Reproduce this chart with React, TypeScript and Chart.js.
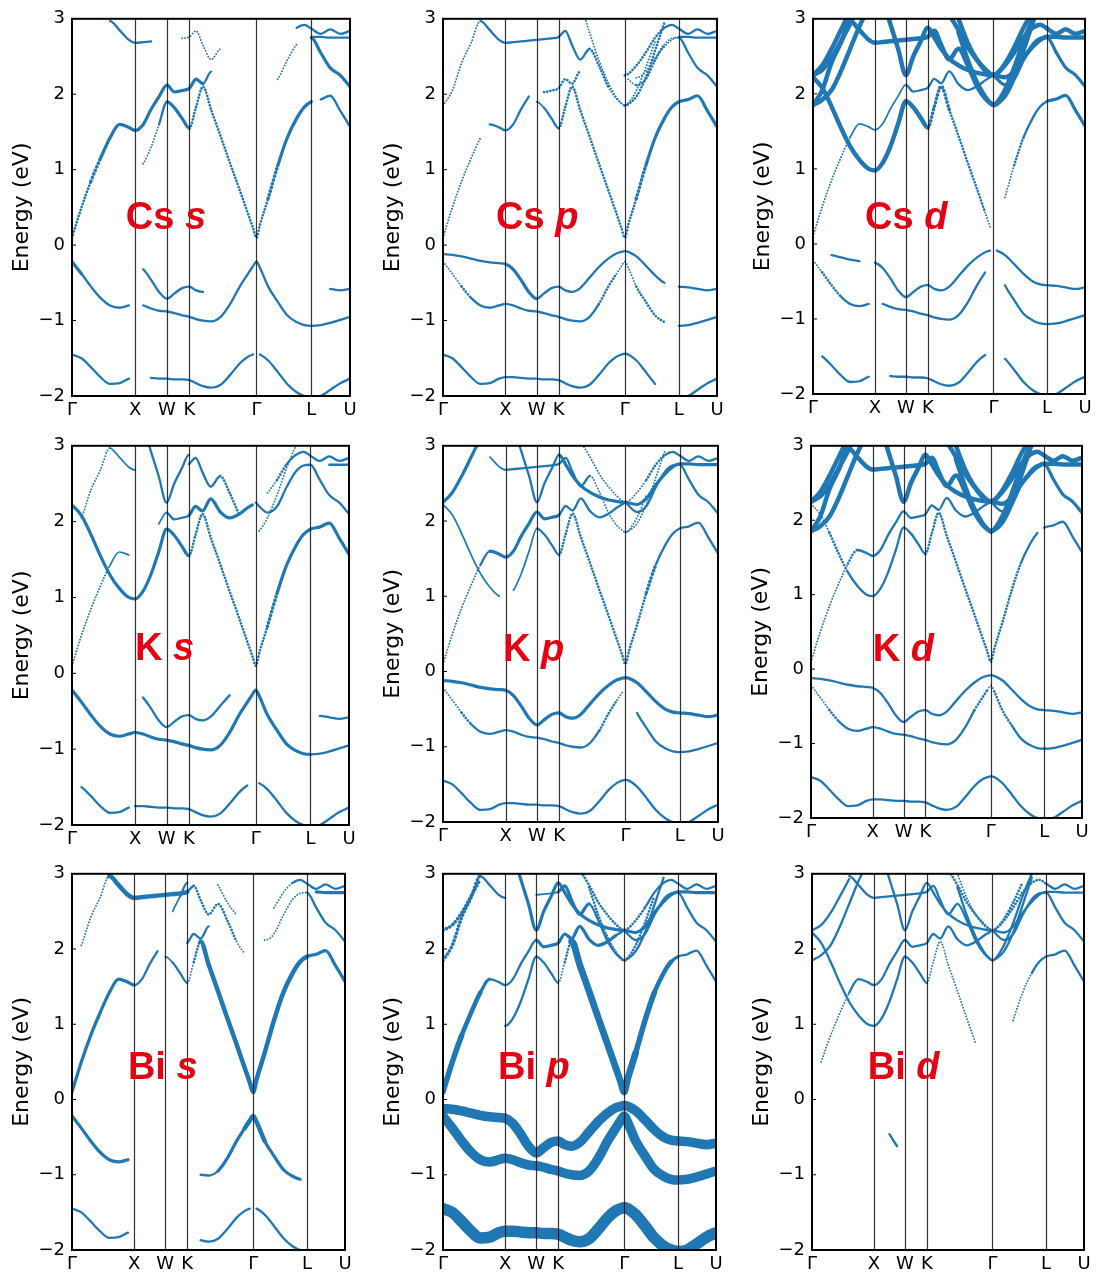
import React, { useEffect, useRef } from 'react';
import { Chart, registerables } from 'chart.js';

Chart.register(...registerables);

// ---------- data ----------
const K_PATH = [0, 0.15, 0.3, 0.45, 0.6, 0.75, 0.9, 1.0, 1.125, 1.25, 1.375, 1.5, 1.62, 1.74, 1.854, 1.96, 2.07, 2.2, 2.35, 2.5, 2.65, 2.78, 2.86, 2.915, 2.97, 3.1, 3.25, 3.4, 3.55, 3.67, 3.781, 3.93, 4.08, 4.24, 4.393];
const HS_POS = [0, 1.0, 1.5, 1.854, 2.915, 3.781, 4.393];
const HS_LABELS = ['Γ', 'X', 'W', 'K', 'Γ', 'L', 'U'];
const Y_TICKS = [-2, -1, 0, 1, 2, 3];

const V3 = [-1.45, -1.5, -1.62, -1.75, -1.84, -1.83, -1.77, -1.75, -1.75, -1.76, -1.77, -1.77, -1.78, -1.78, -1.79, -1.83, -1.87, -1.89, -1.85, -1.72, -1.57, -1.48, -1.45, -1.44, -1.45, -1.53, -1.68, -1.84, -1.95, -2.0, -2.02, -2.0, -1.92, -1.83, -1.77];
const V2 = [-0.22, -0.38, -0.55, -0.7, -0.8, -0.83, -0.8, -0.78, -0.8, -0.84, -0.87, -0.88, -0.9, -0.93, -0.95, -0.98, -1.0, -1.01, -0.95, -0.78, -0.55, -0.38, -0.28, -0.22, -0.3, -0.55, -0.75, -0.93, -1.02, -1.06, -1.07, -1.06, -1.03, -0.99, -0.95];
const V1 = [-0.12, -0.13, -0.15, -0.18, -0.21, -0.23, -0.24, -0.25, -0.32, -0.46, -0.62, -0.71, -0.64, -0.57, -0.55, -0.6, -0.62, -0.57, -0.43, -0.29, -0.18, -0.11, -0.09, -0.08, -0.09, -0.15, -0.27, -0.4, -0.5, -0.54, -0.55, -0.56, -0.58, -0.6, -0.58];
const C1 = [0.1, 0.5, 0.85, 1.15, 1.42, 1.6, 1.56, 1.52, 1.6, 1.8, 1.97, 2.12, 2.03, 2.05, 2.08, 2.2, 2.14, 2.3, 2.13, 2.05, 2.1, 2.18, 2.22, 2.25, 2.2, 2.12, 2.2, 2.45, 2.66, 2.74, 2.75, 2.55, 2.35, 2.25, 2.1];
const C2 = [2.22, 2.08, 1.83, 1.55, 1.3, 1.12, 1.0, 0.98, 1.08, 1.3, 1.6, 1.9, 1.82, 1.68, 1.55, 1.83, 2.1, 1.79, 1.44, 1.08, 0.73, 0.42, 0.23, 0.1, 0.27, 0.62, 1.05, 1.42, 1.68, 1.83, 1.9, 1.93, 1.98, 1.78, 1.57];
const C3 = [1.85, 1.92, 2.05, 2.3, 2.6, 2.9, 3.15, 3.3, 3.4, 3.5, 3.5, 3.5, 3.5, 3.5, 3.5, 3.5, 3.45, 3.2, 2.82, 2.45, 2.15, 1.96, 1.88, 1.85, 1.88, 2.05, 2.35, 2.7, 3.0, 3.2, 3.3, 3.3, 3.3, 3.3, 3.3];
const C4 = [2.25, 2.32, 2.48, 2.7, 2.93, 3.2, 3.4, 3.5, 3.5, 3.5, 3.5, 3.5, 3.5, 3.5, 3.5, 3.5, 3.5, 3.35, 3.0, 2.68, 2.45, 2.31, 2.26, 2.25, 2.27, 2.4, 2.62, 2.88, 3.1, 3.3, 3.4, 3.4, 3.4, 3.4, 3.4];
const C5 = [1.85, 2.05, 2.42, 2.68, 2.97, 2.85, 2.72, 2.68, 2.69, 2.7, 2.71, 2.72, 2.73, 2.74, 2.76, 2.84, 2.65, 2.46, 2.6, 2.38, 2.1, 1.94, 1.88, 1.85, 1.87, 1.97, 2.22, 2.58, 2.95, 3.25, 3.4, 3.4, 3.4, 3.4, 3.4];
const C6 = [2.25, 2.38, 2.6, 2.85, 3.1, 3.3, 3.45, 3.5, 3.27, 2.93, 2.6, 2.25, 2.5, 2.7, 2.88, 2.75, 2.6, 2.47, 2.38, 2.32, 2.28, 2.26, 2.25, 2.25, 2.24, 2.22, 2.3, 2.48, 2.63, 2.72, 2.76, 2.76, 2.75, 2.75, 2.75];
const C7 = [3.5, 3.5, 3.5, 3.5, 3.5, 3.5, 3.5, 3.5, 3.5, 3.5, 3.5, 3.5, 3.5, 3.5, 3.5, 3.3, 3.2, 3.05, 2.85, 2.62, 2.45, 2.33, 2.27, 2.25, 2.27, 2.38, 2.55, 2.75, 2.88, 2.92, 2.87, 2.8, 2.86, 2.8, 2.84];

const BANDS = [V3, V2, V1, C1, C2, C3, C4, C5, C6, C7];

const ELEMENTS = ['Cs', 'Cs', 'Cs', 'K', 'K', 'K', 'Bi', 'Bi', 'Bi'];
const ORBITALS = ['s', 'p', 'd', 's', 'p', 'd', 's', 'p', 'd'];

// projected weights per band, one code per k-segment (ΓX XW WK KΓ ΓL LU)
const W_CS_S = [
  '3333330 0033 333 333333330 0333333 3333',
  '4333330 0333 333 333333333 3333333 3333',
  '0000000 0333 333 330000000 0000000 0033',
  'bbc4444 4444 444 443000000 000aa00 4444',
  '0000000 0aa3 444 bbbbbbbbb bbc4444 0333',
  '0000000 0000 000 000000000 0000000 0000',
  '0000000 0000 000 000000000 0000000 0000',
  '0000333 3300 00a aaaa00000 0000000 0000',
  '0000000 0000 000 000000000 0000000 3333',
  '0000000 0000 000 000000000 0000033 3333',
];
const W_CS_P = [
  '3333333 3333 333 333333333 3333000 0333',
  'aab3333 3333 333 33333bbaa aabbb00 3333',
  '3333333 4444 333 333333333 3333300 3333',
  'aaaa033 3330 0bb bbb000000 0abbbaa 3333',
  '0000000 0000 233 bbbbbbbbb bbc4444 4444',
  '0000000 0000 000 000aaaaaa aaaa000 0000',
  '0000000 0000 000 000000000 0000000 0000',
  'aaaa333 3333 333 3333bbaaa bbbbb00 0000',
  '0000000 0000 000 000000000 00aaaaa 3333',
  '0000000 0000 000 000000000 bbbbb33 3333',
];
const W_CS_D = [
  '0333330 0033 333 333333300 0033333 3333',
  'abb3330 0333 333 333333300 0033333 3333',
  '0033300 3333 333 333333330 0333333 3333',
  'aaaa222 2222 333 333333333 4444444 4444',
  '5555555 5555 555 cccbbbba0 00ab333 4444',
  '5555555 5555 555 000055555 5555555 5555',
  '5555555 5555 555 000055555 5555555 5555',
  '5555555 5555 555 555555555 5555555 5555',
  '5555555 5555 555 555555555 5555555 5555',
  '5555555 5555 555 555555555 5555555 5555',
];
const W_K_S = [
  '0333330 3333 333 333333300 0333333 3333',
  '4444444 4444 444 444444444 4444444 3333',
  '0000000 0333 333 333330000 0000000 0333',
  'aaaa220 0002 333 444444440 3333333 3333',
  '4444444 4444 444 bbbbbbbbb bbc4444 4444',
  '0000000 0000 000 000000000 0aaaa00 0000',
  '0000000 0000 000 000000000 0000000 0000',
  '0aaa222 0000 000 3333bb000 0000000 0000',
  '0000000 0333 333 000000000 0000000 0033',
  '0000000 0000 000 000000000 00ab333 3333',
];
const W_K_P = [
  '3333333 3333 333 333333333 3333333 3333',
  'aab3333 3333 333 33333bba0 0033333 3333',
  '4444444 4444 444 444444444 4444444 4444',
  'aaaa344 4444 444 333333333 3333333 3333',
  '2222220 0222 333 bbbbbbbbb bbbc333 3333',
  '0000000 0000 000 000000000 aaa0000 0000',
  '0000000 0000 000 000000000 0000000 0000',
  '0000022 3333 333 3333aaaaa aaaaa00 0000',
  '4444000 0333 333 444444444 4444444 4444',
  '0000000 0000 000 000aaaaaa aaabb33 3333',
];
const W_K_D = [
  '3333333 3333 333 333333333 3333333 3333',
  'aab3333 3333 333 333333bba abb3333 3333',
  '3333333 3333 333 333333333 3333333 3333',
  'aaaab33 3333 333 333333333 3333333 4444',
  'aabb333 3333 333 bbbbbbbbb bbbb330 3333',
  '5555555 5555 555 000055555 5555555 5555',
  '5555555 5555 555 000055555 5555555 5555',
  '5555555 5555 555 555555555 5555555 5555',
  '5555555 5555 555 555555555 5555555 5555',
  '5555555 5555 555 555555555 5555555 5555',
];
const W_BI_S = [
  '3333330 0000 000 003333330 0333333 0000',
  '4444440 0000 000 003344455 5544440 0000',
  '0000000 0000 000 000000000 0000000 0000',
  '4444444 3330 000 333000000 00aaaaa 3333',
  '0000000 0000 233 ab5555555 5555555 4444',
  '0000000 0000 000 000000000 0000000 0000',
  '0000000 0000 000 000000000 0000000 0000',
  '0aaa555 5555 555 3bbbbba00 0000000 0000',
  '0000000 0000 023 000000000 0000000 0444',
  '0000000 0000 000 0000aa000 000aa33 3333',
];
const W_BI_P = [
  '9999999 9999 999 999999999 9999999 9999',
  '8888888 8888 888 888888888 8888888 8888',
  '8888888 8888 888 888888888 8888888 8888',
  '6655433 3333 444 444444433 3333333 3333',
  '0000000 3333 333 ab7777777 7766554 3333',
  '0000000 0000 000 0000bbbbb bbbb000 0000',
  'cccc000 0000 000 000000000 0000000 0000',
  'cccc333 0000 222 444433333 3333300 0000',
  '0000000 0444 444 444444444 4444444 4444',
  '0000000 0000 000 000bbbbbb bbb3333 3333',
];
const W_BI_D = [
  '0000000 0000 000 000000000 0000000 0000',
  '0000000 0000 000 000000000 0000000 0000',
  '0000000 0030 000 000000000 0000000 0000',
  '0aaa333 3333 333 333333333 3333333 3333',
  '3333333 3333 333 aaaaaa000 000aa33 3333',
  '3333333 0000 000 000033333 3333300 0000',
  '3333000 0000 000 000aaaaaa bbbb000 0000',
  '0000333 3333 333 333333333 3333300 0000',
  '0000000 0333 333 333333333 3333333 3333',
  '0000000 0000 000 00bbbbbbb bbbbbbb 3333',
];
const PANEL_WEIGHTS = [W_CS_S, W_CS_P, W_CS_D, W_K_S, W_K_P, W_K_D, W_BI_S, W_BI_P, W_BI_D];

// ---------- layout & style ----------
const PANEL_BOXES = [
  [72, 13, 278, 383], [443, 13, 274, 383], [813, 13, 272, 381],
  [72, 440, 277, 385], [443, 440, 275, 382], [811, 440, 271, 378],
  [72, 868, 273, 382], [443, 868, 273, 382], [812, 868, 272, 382],
];
const LABEL_K = [0.85, 0.85, 0.84, 1.0, 0.96, 1.0, 0.9, 0.885, 0.9];
const LABEL_E = [0.22, 0.22, 0.2, 0.17, 0.14, 0.11, 0.275, 0.275, 0.275];

const PAD_L = 72, PAD_T = 12, PAD_R = 14, PAD_B = 30;
const BLUE = '#1f77b4';
const RED = '#e60012';
const TICK_FONT = { family: '"DejaVu Sans", sans-serif', size: 18 };

const STYLE: Record<string, [number, number[]]> = {
  '0': [1, []],
  '1': [1.2, []],
  '2': [1.7, []],
  '3': [2.3, []],
  '4': [3.2, []],
  '5': [4.5, []],
  '6': [5.5, []],
  '7': [6.8, []],
  '8': [9.5, []],
  '9': [11.5, []],
  a: [1.9, [0.01, 3.0]],
  b: [2.7, [0.01, 3.2]],
  c: [3.6, [0.01, 3.8]],
};

const fmtY = (v: number) => (v < 0 ? '\u2212' + Math.abs(v) : String(v));

function decorPlugin(idx: number) {
  return {
    id: 'decor' + idx,
    afterDatasetsDraw(chart: any) {
      const { ctx, chartArea: a, scales } = chart;
      const x = scales.x, y = scales.y;
      ctx.save();
      ctx.strokeStyle = 'rgba(0,0,0,0.8)';
      ctx.lineWidth = 1.2;
      HS_POS.slice(1, -1).forEach((k) => {
        const px = Math.round(x.getPixelForValue(k)) + 0.5;
        ctx.beginPath();
        ctx.moveTo(px, a.top);
        ctx.lineTo(px, a.bottom);
        ctx.stroke();
      });
      ctx.strokeStyle = '#000';
      ctx.lineWidth = 1;
      Y_TICKS.forEach((v) => {
        const py = y.getPixelForValue(v);
        ctx.beginPath();
        ctx.moveTo(a.left, py);
        ctx.lineTo(a.left + 4, py);
        ctx.stroke();
      });
      ctx.lineWidth = 2;
      ctx.strokeRect(a.left, a.top, a.right - a.left, a.bottom - a.top);

      const lx = x.getPixelForValue(LABEL_K[idx]);
      const ly = y.getPixelForValue(LABEL_E[idx]);
      ctx.fillStyle = RED;
      ctx.textAlign = 'left';
      ctx.textBaseline = 'alphabetic';
      ctx.font = 'bold 38px "Liberation Sans", Arial, sans-serif';
      const el = ELEMENTS[idx] + ' ';
      ctx.fillText(el, lx, ly);
      const w = ctx.measureText(el).width;
      ctx.font = 'italic bold 38px "Liberation Sans", Arial, sans-serif';
      ctx.fillText(ORBITALS[idx], lx + w, ly);
      ctx.restore();
    },
  };
}

function Panel({ idx }: { idx: number }) {
  const ref = useRef<HTMLCanvasElement | null>(null);
  const [L, T, W, H] = PANEL_BOXES[idx];
  const cw = PAD_L + W + PAD_R;
  const ch = PAD_T + H + PAD_B;

  useEffect(() => {
    if (!ref.current) return;
    const weights = PANEL_WEIGHTS[idx];
    const datasets = BANDS.map((band, b) => {
      const w = weights[b].replace(/\s/g, '');
      const st = (i: number) => STYLE[w[i]] || STYLE['0'];
      return {
        data: band.map((e, i) => ({ x: K_PATH[i], y: e })),
        borderColor: BLUE,
        borderWidth: 2,
        pointRadius: 0,
        pointHoverRadius: 0,
        fill: false,
        cubicInterpolationMode: 'monotone',
        clip: 0,
        borderCapStyle: 'round',
        borderJoinStyle: 'round',
        segment: {
          borderColor: (c: any) => (w[c.p0DataIndex] === '0' || w[c.p0DataIndex] === undefined ? 'rgba(0,0,0,0)' : BLUE),
          borderWidth: (c: any) => st(c.p0DataIndex)[0],
          borderDash: (c: any) => st(c.p0DataIndex)[1],
        },
      };
    });

    const chart = new Chart(ref.current, {
      type: 'line',
      data: { datasets: datasets as any },
      options: {
        responsive: false,
        maintainAspectRatio: false,
        animation: false,
        events: [],
        layout: { padding: { left: 0, top: PAD_T, right: PAD_R, bottom: 0 } },
        plugins: { legend: { display: false }, tooltip: { enabled: false } },
        scales: {
          x: {
            type: 'linear',
            min: 0,
            max: 4.393,
            grid: { display: false, drawTicks: false },
            border: { display: false },
            afterBuildTicks: (s: any) => {
              s.ticks = HS_POS.map((v) => ({ value: v }));
            },
            afterFit: (s: any) => {
              s.height = PAD_B;
            },
            ticks: {
              autoSkip: false,
              maxRotation: 0,
              minRotation: 0,
              padding: 4,
              color: '#000',
              font: TICK_FONT,
              callback: (_v: any, i: number) => HS_LABELS[i],
            },
          },
          y: {
            type: 'linear',
            min: -2,
            max: 3,
            grid: { display: false, drawTicks: false },
            border: { display: false },
            afterBuildTicks: (s: any) => {
              s.ticks = Y_TICKS.map((v) => ({ value: v }));
            },
            afterFit: (s: any) => {
              s.width = PAD_L;
            },
            ticks: {
              padding: 7,
              color: '#000',
              font: TICK_FONT,
              callback: (v: any) => fmtY(Number(v)),
            },
            title: {
              display: true,
              text: 'Energy (eV)',
              color: '#000',
              font: { family: '"DejaVu Sans", sans-serif', size: 22, lineHeight: 1.2 },
              padding: { top: 9, bottom: 0 },
            },
          },
        },
      } as any,
      plugins: [decorPlugin(idx)],
    });
    return () => chart.destroy();
  }, [idx]);

  return (
    <canvas
      ref={ref}
      width={cw}
      height={ch}
      style={{ position: 'absolute', left: L - PAD_L, top: T - PAD_T, width: cw, height: ch }}
    />
  );
}

export default function App() {
  useEffect(() => {
    document.body.style.margin = '0';
    document.body.style.background = '#fff';
  }, []);
  return (
    <div style={{ position: 'absolute', left: 0, top: 0, width: 1097, height: 1278, overflow: 'hidden', background: '#fff' }}>
      {PANEL_BOXES.map((_, i) => (
        <Panel key={i} idx={i} />
      ))}
    </div>
  );
}
